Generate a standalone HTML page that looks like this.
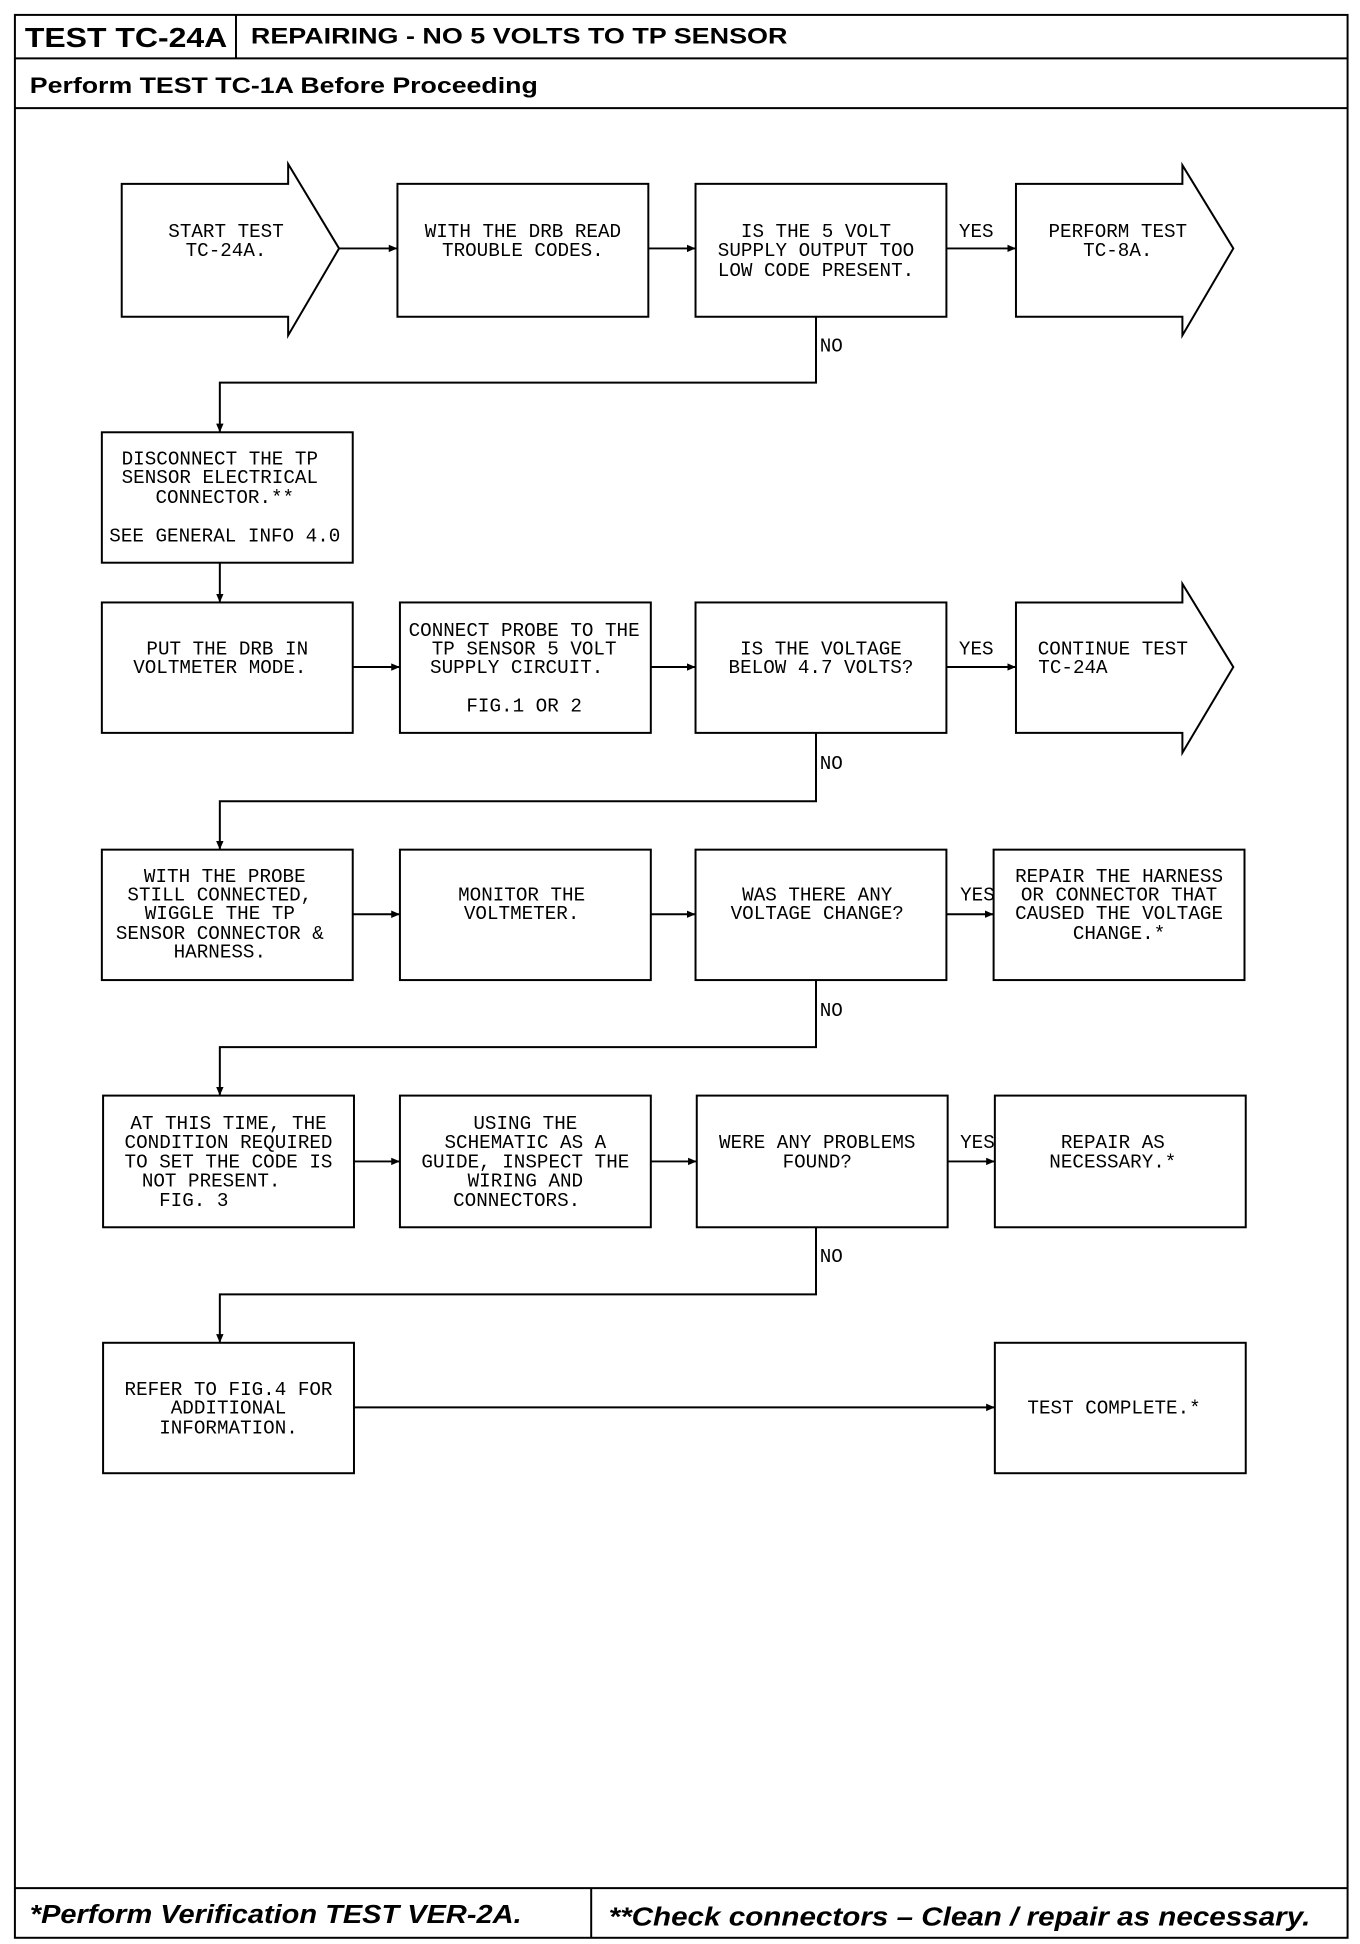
<!DOCTYPE html>
<html><head><meta charset="utf-8"><style>
html,body{margin:0;padding:0;background:#fff;}
svg{display:block}
.t{font-family:"Liberation Mono",monospace;font-size:15.5px;fill:#000;text-anchor:middle}
.l{text-anchor:start}
.h{font-family:"Liberation Sans",sans-serif;font-weight:bold;fill:#000}
</style></head><body>
<svg width="1360" height="1944" viewBox="0 0 1095 1565" preserveAspectRatio="none" xmlns="http://www.w3.org/2000/svg">
<defs><marker id="a" markerWidth="8" markerHeight="8" refX="7" refY="4" orient="auto" markerUnits="userSpaceOnUse"><path d="M0,1 L7,4 L0,7 Z" fill="#000"/></marker></defs>
<g fill="none" stroke="#000" stroke-width="1.6">
<rect x="12" y="12" width="1073" height="1548"/>
<line x1="12" y1="47" x2="1085" y2="47"/>
<line x1="190" y1="12" x2="190" y2="47"/>
<line x1="12" y1="87" x2="1085" y2="87"/>
<line x1="12" y1="1520" x2="1085" y2="1520"/>
<line x1="476" y1="1520" x2="476" y2="1560"/>
<path d="M98,148 H232 V132 L273,200 L232,270 V255 H98 Z"/>
<rect x="320" y="148" width="202" height="107"/>
<rect x="560" y="148" width="202" height="107"/>
<path d="M818,148 H952 V133 L993,200 L952,270 V255 H818 Z"/>
<rect x="82" y="348" width="202" height="105"/>
<rect x="82" y="485" width="202" height="105"/>
<rect x="322" y="485" width="202" height="105"/>
<rect x="560" y="485" width="202" height="105"/>
<path d="M818,485 H952 V470 L993,537 L952,606 V590 H818 Z"/>
<rect x="82" y="684" width="202" height="105"/>
<rect x="322" y="684" width="202" height="105"/>
<rect x="560" y="684" width="202" height="105"/>
<rect x="800" y="684" width="202" height="105"/>
<rect x="83" y="882" width="202" height="106"/>
<rect x="322" y="882" width="202" height="106"/>
<rect x="561" y="882" width="202" height="106"/>
<rect x="801" y="882" width="202" height="106"/>
<rect x="83" y="1081" width="202" height="105"/>
<rect x="801" y="1081" width="202" height="105"/>
</g>
<g fill="none" stroke="#000" stroke-width="1.6" marker-end="url(#a)">
<line x1="273" y1="200" x2="320" y2="200"/>
<line x1="522" y1="200" x2="560" y2="200"/>
<line x1="762" y1="200" x2="818" y2="200"/>
<path d="M657,255 V308 H177 V348"/>
<line x1="177" y1="453" x2="177" y2="485"/>
<line x1="284" y1="537" x2="322" y2="537"/>
<line x1="524" y1="537" x2="560" y2="537"/>
<line x1="762" y1="537" x2="818" y2="537"/>
<path d="M657,590 V645 H177 V684"/>
<line x1="284" y1="736" x2="322" y2="736"/>
<line x1="524" y1="736" x2="560" y2="736"/>
<line x1="762" y1="736" x2="800" y2="736"/>
<path d="M657,789 V843 H177 V882"/>
<line x1="285" y1="935" x2="322" y2="935"/>
<line x1="524" y1="935" x2="561" y2="935"/>
<line x1="763" y1="935" x2="801" y2="935"/>
<path d="M657,988 V1042 H177 V1081"/>
<line x1="285" y1="1133" x2="801" y2="1133"/>
</g>
<text class="h" x="20" y="38" font-size="22" textLength="163" lengthAdjust="spacingAndGlyphs">TEST TC-24A</text>
<text class="h" x="202" y="35" font-size="18" textLength="432" lengthAdjust="spacingAndGlyphs">REPAIRING - NO 5 VOLTS TO TP SENSOR</text>
<text class="h" x="24" y="75" font-size="18" textLength="409" lengthAdjust="spacingAndGlyphs">Perform TEST TC-1A Before Proceeding</text>
<text class="h" x="24" y="1548" font-size="21" font-style="italic" textLength="396" lengthAdjust="spacingAndGlyphs">*Perform Verification TEST VER-2A.</text>
<text class="h" x="490" y="1550" font-size="21" font-style="italic" textLength="565" lengthAdjust="spacingAndGlyphs">**Check connectors – Clean / repair as necessary.</text>
<g class="t">
<text x="182" y="191">START TEST</text><text x="182" y="206">TC-24A.</text>
<text x="421" y="191">WITH THE DRB READ</text><text x="421" y="206">TROUBLE CODES.</text>
<text x="657" y="191">IS THE 5 VOLT</text><text x="657" y="206">SUPPLY OUTPUT TOO</text><text x="657" y="222">LOW CODE PRESENT.</text>
<text x="786" y="191">YES</text>
<text x="900" y="191">PERFORM TEST</text><text x="900" y="206">TC-8A.</text>
<text class="t l" x="660" y="283">NO</text>
<text x="177" y="374">DISCONNECT THE TP</text><text x="177" y="389">SENSOR ELECTRICAL</text><text x="181" y="405">CONNECTOR.**</text><text x="181" y="436">SEE GENERAL INFO 4.0</text>
<text x="183" y="527">PUT THE DRB IN</text><text x="177" y="542">VOLTMETER MODE.</text>
<text x="422" y="512">CONNECT PROBE TO THE</text><text x="422" y="527">TP SENSOR 5 VOLT</text><text x="416" y="542">SUPPLY CIRCUIT.</text><text x="422" y="573">FIG.1 OR 2</text>
<text x="661" y="527">IS THE VOLTAGE</text><text x="661" y="542">BELOW 4.7 VOLTS?</text>
<text x="786" y="527">YES</text>
<text x="896" y="527">CONTINUE TEST</text><text class="t l" x="836" y="542">TC-24A</text>
<text class="t l" x="660" y="619">NO</text>
<text x="181" y="710">WITH THE PROBE</text><text x="177" y="725">STILL CONNECTED,</text><text x="177" y="740">WIGGLE THE TP</text><text x="177" y="756">SENSOR CONNECTOR &amp;</text><text x="177" y="771">HARNESS.</text>
<text x="420" y="725">MONITOR THE</text><text x="420" y="740">VOLTMETER.</text>
<text x="658" y="725">WAS THERE ANY</text><text x="658" y="740">VOLTAGE CHANGE?</text>
<text x="787" y="725">YES</text>
<text x="901" y="710">REPAIR THE HARNESS</text><text x="901" y="725">OR CONNECTOR THAT</text><text x="901" y="740">CAUSED THE VOLTAGE</text><text x="901" y="756">CHANGE.*</text>
<text class="t l" x="660" y="818">NO</text>
<text x="184" y="909">AT THIS TIME, THE</text><text x="184" y="924">CONDITION REQUIRED</text><text x="184" y="940">TO SET THE CODE IS</text><text x="170" y="955">NOT PRESENT.</text><text x="156" y="971">FIG. 3</text>
<text x="423" y="909">USING THE</text><text x="423" y="924">SCHEMATIC AS A</text><text x="423" y="940">GUIDE, INSPECT THE</text><text x="423" y="955">WIRING AND</text><text x="416" y="971">CONNECTORS.</text>
<text x="658" y="924">WERE ANY PROBLEMS</text><text x="658" y="940">FOUND?</text>
<text x="787" y="924">YES</text>
<text x="896" y="924">REPAIR AS</text><text x="896" y="940">NECESSARY.*</text>
<text class="t l" x="660" y="1016">NO</text>
<text x="184" y="1123">REFER TO FIG.4 FOR</text><text x="184" y="1138">ADDITIONAL</text><text x="184" y="1154">INFORMATION.</text>
<text x="897" y="1138">TEST COMPLETE.*</text>
</g>
</svg>
</body></html>
